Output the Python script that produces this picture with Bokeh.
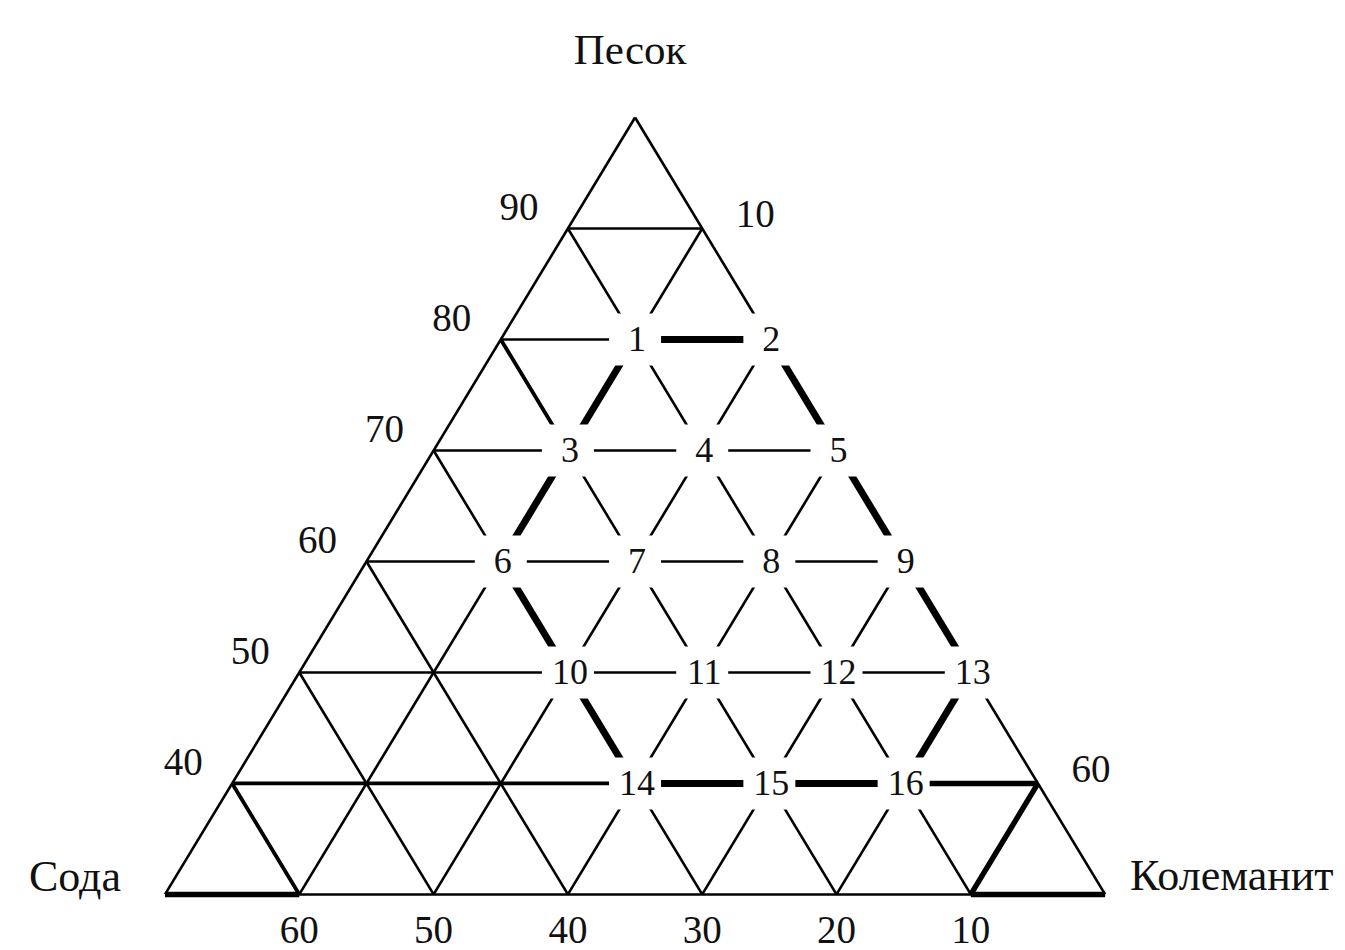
from bokeh.plotting import figure
from bokeh.models import Range1d
from bokeh.core.properties import value
from bokeh.embed import file_html
from bokeh.resources import INLINE

# Compositions of the studied mixtures, % (Песок / Колеманит / Сода)
point_labels = [str(i) for i in range(1, 17)]
pesok = [80, 80, 70, 70, 70, 60, 60, 60, 60, 50, 50, 50, 50, 40, 40, 40]
kolemanit = [10, 20, 10, 20, 30, 10, 20, 30, 40, 20, 30, 40, 50, 30, 40, 50]
soda = [10, 0, 20, 10, 0, 30, 20, 10, 0, 30, 20, 10, 0, 30, 20, 10]

# outline of the studied region, by point number
region_order = [1, 2, 5, 9, 13, 16, 15, 14, 10, 6, 3, 1]

pesok_ticks = [90, 80, 70, 60, 50, 40]
kolemanit_ticks = [10, 60]
soda_ticks = [60, 50, 40, 30, 20, 10]

P_MIN = 30   # lower limit of sand shown in the diagram
STEP = 10

FONT = value("Liberation Serif")
INK = "#111111"


def to_xy(p_, k_):
    """Ternary (sand, colemanite) -> plane coordinates."""
    s_ = 100 - p_ - k_
    return k_ - s_, p_


def seg(a, b):
    x0, y0 = to_xy(*a)
    x1, y1 = to_xy(*b)
    return [x0, x1], [y0, y1]


p = figure(width=1345, height=950,
           x_range=Range1d(-94.5, 105.8), y_range=Range1d(24.95, 110.54),
           output_backend="svg", toolbar_location=None, min_border=0)
p.axis.visible = False
p.grid.visible = False
p.outline_line_color = None
p.background_fill_color = "white"
p.border_fill_color = "white"

span = 100 - P_MIN

# thin grid and the triangle itself
xs, ys = [], []
edges = [((100, 0), (P_MIN, 0)), ((100, 0), (P_MIN, span)), ((P_MIN, 0), (P_MIN, span))]
for lv in range(P_MIN + STEP, 100, STEP):
    edges.append(((lv, 0), (lv, 100 - lv)))              # constant sand
for c in range(STEP, span, STEP):
    edges.append(((P_MIN, c), (100 - c, c)))             # constant colemanite
    edges.append(((P_MIN, span - c), (100 - c, 0)))      # constant soda
for a, b in edges:
    sx_, sy_ = seg(a, b)
    xs.append(sx_)
    ys.append(sy_)
p.multi_line(xs, ys, line_color="black", line_width=2.6)

# heavier strokes of the drawing
medium = [((40, 0), (40, 30)), ((40, 0), (30, 10)), ((80, 0), (70, 10))]
heavy = [((30, 0), (30, 10)), ((30, 60), (30, 70)), ((30, 60), (40, 60)), ((40, 50), (40, 60))]
for group, w in ((medium, 3.8), (heavy, 5.4)):
    gx, gy = [], []
    for a, b in group:
        sx_, sy_ = seg(a, b)
        gx.append(sx_)
        gy.append(sy_)
    p.multi_line(gx, gy, line_color="black", line_width=w)

# border of the studied region
rx, ry = [], []
for i in range(len(region_order) - 1):
    a = region_order[i] - 1
    b = region_order[i + 1] - 1
    sx_, sy_ = seg((pesok[a], kolemanit[a]), (pesok[b], kolemanit[b]))
    rx.append(sx_)
    ry.append(sy_)
p.multi_line(rx, ry, line_color="black", line_width=7)

# numbered points on white pads
px = [k - s for k, s in zip(kolemanit, soda)]
py = pesok
p.scatter(px, py, marker="square", size=52, fill_color="white", line_color=None)
p.text(px, py, text=point_labels, text_font=FONT, text_font_size="36px",
       text_color=INK, text_align="center", text_baseline="middle", x_offset=2)

# sand scale along the left side
lx = [to_xy(v, 0)[0] for v in pesok_ticks]
p.text(lx, pesok_ticks, text=[str(v) for v in pesok_ticks], text_font=FONT,
       text_font_size="39px", text_color=INK, text_align="center",
       text_baseline="middle", x_offset=-49, y_offset=-21)

# colemanite scale along the right side
kx = [to_xy(100 - v, v)[0] for v in kolemanit_ticks]
ky = [100 - v for v in kolemanit_ticks]
p.text(kx, ky, text=[str(v) for v in kolemanit_ticks], text_font=FONT,
       text_font_size="39px", text_color=INK, text_align="center",
       text_baseline="middle", x_offset=53, y_offset=-14)

# soda scale along the base
bx = [to_xy(P_MIN, span - v)[0] for v in soda_ticks]
by = [P_MIN] * len(soda_ticks)
p.text(bx, by, text=[str(v) for v in soda_ticks], text_font=FONT,
       text_font_size="39px", text_color=INK, text_align="center",
       text_baseline="middle", x_offset=0, y_offset=36)

# component names at the vertices
ax_, ay_ = to_xy(100, 0)
p.text([ax_], [ay_], text=["Песок"], text_font=FONT, text_font_size="43px",
       text_color=INK, text_align="center", text_baseline="middle",
       x_offset=-5, y_offset=-68)
sx0, sy0 = to_xy(P_MIN, 0)
p.text([sx0], [sy0], text=["Сода"], text_font=FONT, text_font_size="44px",
       text_color=INK, text_align="right", text_baseline="middle",
       x_offset=-44, y_offset=-18)
kx0, ky0 = to_xy(P_MIN, span)
p.text([kx0], [ky0], text=["Колеманит"], text_font=FONT, text_font_size="44px",
       text_color=INK, text_align="left", text_baseline="middle",
       x_offset=25, y_offset=-19)

open("out.html", "w").write(file_html(p, INLINE))
